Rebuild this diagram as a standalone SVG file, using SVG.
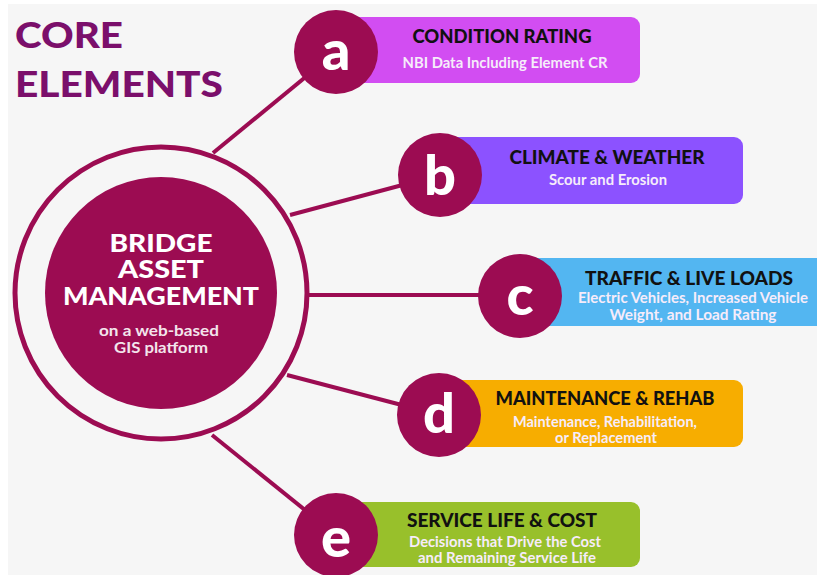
<svg xmlns="http://www.w3.org/2000/svg" width="817" height="575" viewBox="0 0 817 575">
  <style>
    .bg { fill: #f6f6f6; }
    .maroon { fill: #9c0c52; }
    .link { stroke: #9c0c52; stroke-width: 4; fill: none; }
    .title { font-family: Lato, "Open Sans", sans-serif; font-weight: 900; font-size: 36px; fill: #7b0f6b; }
    .hub { font-family: Lato, "Open Sans", sans-serif; font-weight: 900; font-size: 24px; fill: #ffffff; text-anchor: middle; }
    .hubsub { font-family: Lato, "Open Sans", sans-serif; font-weight: 700; font-size: 15px; fill: #f3e4ec; text-anchor: middle; }
    .letter { font-family: Lato, "Open Sans", sans-serif; font-weight: 900; font-size: 56px; fill: #ffffff; text-anchor: middle; }
    .head { font-family: Lato, "Open Sans", sans-serif; font-weight: 900; font-size: 18px; fill: #111111; text-anchor: middle; }
    .sub { font-family: Lato, "Open Sans", sans-serif; font-weight: 700; font-size: 14.5px; fill: #f6ecfa; text-anchor: middle; }
  </style>

  <rect class="bg" x="8" y="4" width="809" height="571"/>

  <!-- heading -->
  <g id="title">
    <text class="title" x="15" y="48" textLength="108" lengthAdjust="spacingAndGlyphs">CORE</text>
    <text class="title" x="15" y="97" textLength="208" lengthAdjust="spacingAndGlyphs">ELEMENTS</text>
  </g>

  <!-- spokes from the hub ring to each lettered badge -->
  <g id="connectors">
    <line class="link" x1="213" y1="153" x2="336" y2="52"/>
    <line class="link" x1="290" y1="215" x2="440" y2="175"/>
    <line class="link" x1="307" y1="295" x2="520" y2="295"/>
    <line class="link" x1="287" y1="375" x2="440" y2="415"/>
    <line class="link" x1="212" y1="435" x2="336" y2="535"/>
  </g>

  <!-- central hub -->
  <g id="hub">
    <circle cx="161" cy="293" r="146" fill="none" stroke="#9c0c52" stroke-width="5"/>
    <circle class="maroon" cx="161" cy="293" r="116"/>
    <text class="hub" x="161" y="252" textLength="103" lengthAdjust="spacingAndGlyphs">BRIDGE</text>
    <text class="hub" x="161" y="278" textLength="86" lengthAdjust="spacingAndGlyphs">ASSET</text>
    <text class="hub" x="161" y="305" textLength="196" lengthAdjust="spacingAndGlyphs">MANAGEMENT</text>
    <text class="hubsub" x="159" y="336" textLength="120" lengthAdjust="spacingAndGlyphs">on a web-based</text>
    <text class="hubsub" x="161" y="353" textLength="94" lengthAdjust="spacingAndGlyphs">GIS platform</text>
  </g>

  <g id="node-a">
    <rect x="330" y="17" width="310" height="66" rx="9" fill="#d24df2"/>
    <circle class="maroon" cx="336" cy="52" r="42"/>
    <text class="letter" x="336" y="70">a</text>
    <text class="head" x="502" y="43" textLength="179" lengthAdjust="spacingAndGlyphs">CONDITION RATING</text>
    <text class="sub" x="505" y="68" textLength="205" lengthAdjust="spacingAndGlyphs">NBI Data Including Element CR</text>
  </g>

  <g id="node-b">
    <rect x="434" y="137" width="309" height="67" rx="9" fill="#8c52ff"/>
    <circle class="maroon" cx="440" cy="175" r="42"/>
    <text class="letter" x="440" y="195">b</text>
    <text class="head" x="607" y="164" textLength="195" lengthAdjust="spacingAndGlyphs">CLIMATE &amp; WEATHER</text>
    <text class="sub" x="608" y="185" textLength="118" lengthAdjust="spacingAndGlyphs">Scour and Erosion</text>
  </g>

  <g id="node-c">
    <rect x="514" y="258" width="320" height="68" rx="9" fill="#53b6f1"/>
    <circle class="maroon" cx="520" cy="296" r="42"/>
    <text class="letter" x="520" y="315">c</text>
    <text class="head" x="689" y="285" textLength="208" lengthAdjust="spacingAndGlyphs">TRAFFIC &amp; LIVE LOADS</text>
    <text class="sub" x="693" y="303" textLength="230" lengthAdjust="spacingAndGlyphs">Electric Vehicles, Increased Vehicle</text>
    <text class="sub" x="693" y="320" textLength="167" lengthAdjust="spacingAndGlyphs">Weight, and Load Rating</text>
  </g>

  <g id="node-d">
    <rect x="434" y="380" width="309" height="67" rx="9" fill="#f7ad00"/>
    <circle class="maroon" cx="439" cy="415" r="42"/>
    <text class="letter" x="439" y="433">d</text>
    <text class="head" x="605" y="405" textLength="219" lengthAdjust="spacingAndGlyphs">MAINTENANCE &amp; REHAB</text>
    <text class="sub" x="605" y="427" textLength="184" lengthAdjust="spacingAndGlyphs">Maintenance, Rehabilitation,</text>
    <text class="sub" x="606" y="443" textLength="102" lengthAdjust="spacingAndGlyphs">or Replacement</text>
  </g>

  <g id="node-e">
    <rect x="330" y="502" width="310" height="65" rx="9" fill="#98c02b"/>
    <circle class="maroon" cx="336" cy="535" r="42"/>
    <text class="letter" x="336" y="557">e</text>
    <text class="head" x="502" y="527" textLength="190" lengthAdjust="spacingAndGlyphs">SERVICE LIFE &amp; COST</text>
    <text class="sub" x="505" y="547" textLength="192" lengthAdjust="spacingAndGlyphs">Decisions that Drive the Cost</text>
    <text class="sub" x="507" y="563" textLength="178" lengthAdjust="spacingAndGlyphs">and Remaining Service Life</text>
  </g>
</svg>
